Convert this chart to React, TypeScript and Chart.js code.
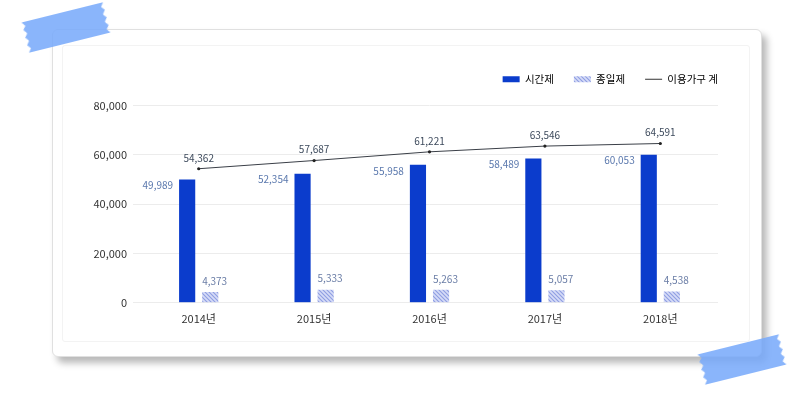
import React, { useEffect, useRef } from "react";
import { Chart, registerables } from "chart.js";

Chart.register(...registerables);

const categories = ["2014년", "2015년", "2016년", "2017년", "2018년"];
const partTime = [49989, 52354, 55958, 58489, 60053];
const fullDay = [4373, 5333, 5263, 5057, 4538];
const totalHouseholds = [54362, 57687, 61221, 63546, 64591];
const yTicks = [0, 20000, 40000, 60000, 80000];

const FONT = "'Noto Sans CJK KR', 'Noto Sans', sans-serif";
const BAR_BLUE = "#0b3ccc";

function makeHatch(): CanvasPattern | string {
  const c = document.createElement("canvas");
  c.width = 4;
  c.height = 4;
  const g = c.getContext("2d");
  if (!g) return "#a9b5ee";
  g.fillStyle = "#d6dcf7";
  g.fillRect(0, 0, 4, 4);
  g.strokeStyle = "#8f9de2";
  g.lineWidth = 1.1;
  g.beginPath();
  g.moveTo(-1, -1);
  g.lineTo(5, 5);
  g.moveTo(-1, 3);
  g.lineTo(1, 5);
  g.moveTo(3, -1);
  g.lineTo(5, 1);
  g.stroke();
  const p = g.createPattern(c, "repeat");
  return p || "#a9b5ee";
}

const fmt = (v: number) => v.toLocaleString("en-US");

const labelPlugin = {
  id: "valueLabels",
  afterDatasetsDraw(chart: any) {
    const ctx = chart.ctx;
    ctx.save();
    ctx.font = `10px ${FONT}`;
    chart.data.datasets.forEach((ds: any, di: number) => {
      const meta = chart.getDatasetMeta(di);
      meta.data.forEach((el: any, i: number) => {
        const v = ds.data[i] as number;
        const text = fmt(v);
        if (di === 0) {
          ctx.fillStyle = "#5a78ad";
          ctx.textAlign = "right";
          ctx.textBaseline = "middle";
          ctx.fillText(text, el.x - el.width / 2 - 6, el.y + 6);
        } else if (di === 1) {
          ctx.fillStyle = "#6a7da6";
          ctx.textAlign = "left";
          ctx.textBaseline = "middle";
          ctx.fillText(text, el.x - el.width / 2, el.y - 11);
        } else {
          ctx.fillStyle = "#3d4a5c";
          ctx.textAlign = "center";
          ctx.textBaseline = "middle";
          ctx.fillText(text, el.x, el.y - 11);
        }
      });
    });
    ctx.restore();
  },
};

const legendShift = {
  id: "legendShift",
  beforeInit(chart: any) {
    const lg = chart.legend;
    if (!lg) return;
    const orig = lg.fit;
    lg.fit = function () {
      orig.call(this);
      this.height += 2;
    };
  },
  afterLayout(chart: any) {
    const lg = chart.legend;
    if (!lg) return;
    lg.left += 20;
    lg.right += 20;
    lg.top -= 9;
    lg.bottom -= 9;
  },
};

function TapeSvg({ left, top, angle }: { left: number; top: number; angle: number }) {
  const w = 84;
  const h = 31;
  const pts: string[] = [];
  pts.push(`0,0`);
  pts.push(`${w},0`);
  const n = 8;
  for (let k = 1; k <= n; k++) {
    const y = (h * k) / n;
    const x = k % 2 === 0 ? w : w - 3;
    pts.push(`${x},${y}`);
  }
  pts.push(`0,${h}`);
  for (let k = n - 1; k >= 1; k--) {
    const y = (h * k) / n;
    const x = k % 2 === 0 ? 0 : 3;
    pts.push(`${x},${y}`);
  }
  return (
    <svg
      width={w}
      height={h}
      style={{
        position: "absolute",
        left,
        top,
        transform: `rotate(${angle}deg)`,
        transformOrigin: "50% 50%",
        zIndex: 5,
        overflow: "visible",
      }}
    >
      <polygon points={pts.join(" ")} fill="rgba(118,168,250,0.85)" />
    </svg>
  );
}

export default function App() {
  const ref = useRef<HTMLCanvasElement | null>(null);

  useEffect(() => {
    if (!ref.current) return;
    const hatch = makeHatch();
    const chart = new Chart(ref.current, {
      type: "bar",
      data: {
        labels: categories,
        datasets: [
          {
            type: "bar",
            label: "시간제",
            data: partTime,
            backgroundColor: BAR_BLUE,
            categoryPercentage: 0.4,
            barPercentage: 0.7,
            order: 2,
          },
          {
            type: "bar",
            label: "종일제",
            data: fullDay,
            backgroundColor: hatch as any,
            categoryPercentage: 0.4,
            barPercentage: 0.7,
            order: 2,
          },
          {
            type: "line",
            label: "이용가구 계",
            data: totalHouseholds,
            borderColor: "#3a3f47",
            borderWidth: 1,
            pointRadius: 1.6,
            pointBackgroundColor: "#222",
            pointBorderWidth: 0,
            fill: false,
            tension: 0,
            order: 1,
          } as any,
        ],
      },
      options: {
        responsive: false,
        animation: false,
        devicePixelRatio: 1,
        layout: { padding: { top: 18, right: 32, bottom: 16, left: 0 } },
        plugins: {
          tooltip: { enabled: false },
          legend: {
            position: "top",
            align: "end",
            labels: {
              font: { family: FONT, size: 10.5 },
              color: "#333",
              usePointStyle: true,
              pointStyleWidth: 17,
              boxHeight: 6,
              padding: 20,
              generateLabels: () => [
                {
                  text: "시간제",
                  fillStyle: BAR_BLUE,
                  strokeStyle: BAR_BLUE,
                  lineWidth: 0,
                  pointStyle: "rect",
                  datasetIndex: 0,
                  hidden: false,
                },
                {
                  text: "종일제",
                  fillStyle: hatch as any,
                  strokeStyle: "rgba(0,0,0,0)",
                  lineWidth: 0,
                  pointStyle: "rect",
                  datasetIndex: 1,
                  hidden: false,
                },
                {
                  text: "이용가구 계",
                  fillStyle: "#333",
                  strokeStyle: "#333",
                  lineWidth: 1,
                  pointStyle: "line",
                  datasetIndex: 2,
                  hidden: false,
                },
              ] as any,
            },
          },
        },
        scales: {
          x: {
            grid: { display: false },
            border: { display: false },
            ticks: {
              font: { family: FONT, size: 11 },
              color: "#333",
              padding: 1,
            },
          },
          y: {
            min: 0,
            max: 80000,
            afterFit(scale: any) {
              scale.width = 79;
            },
            afterBuildTicks(scale: any) {
              scale.ticks = yTicks.map((v) => ({ value: v }));
            },
            grid: {
              color: "#ececec",
              tickColor: "#ececec",
              tickLength: 8,
              lineWidth: 1,
            },
            border: { display: false },
            ticks: {
              font: { family: FONT, size: 11 },
              color: "#333",
              padding: 6,
              callback: (v: any) => fmt(Number(v)),
            },
          },
        },
      },
      plugins: [labelPlugin, legendShift],
    });
    return () => chart.destroy();
  }, []);

  return (
    <div
      style={{
        position: "fixed",
        left: 0,
        top: 0,
        width: 797,
        height: 393,
        background: "#fff",
        overflow: "hidden",
      }}
    >
      <div
        style={{
          position: "absolute",
          left: 52,
          top: 29,
          width: 708,
          height: 326,
          border: "1px solid #e0e0e0",
          borderRadius: 6,
          background: "#fff",
          boxShadow: "5px 6px 7px rgba(0,0,0,0.28)",
        }}
      />
      <div
        style={{
          position: "absolute",
          left: 62,
          top: 45,
          width: 686,
          height: 295,
          border: "1px solid #f3f3f3",
          borderRadius: 3,
        }}
      />
      <canvas
        ref={ref}
        width={688}
        height={297}
        style={{ position: "absolute", left: 62, top: 45, width: 688, height: 297 }}
      />
      <TapeSvg left={24} top={12} angle={-14} />
      <TapeSvg left={700} top={344} angle={-14} />
    </div>
  );
}
